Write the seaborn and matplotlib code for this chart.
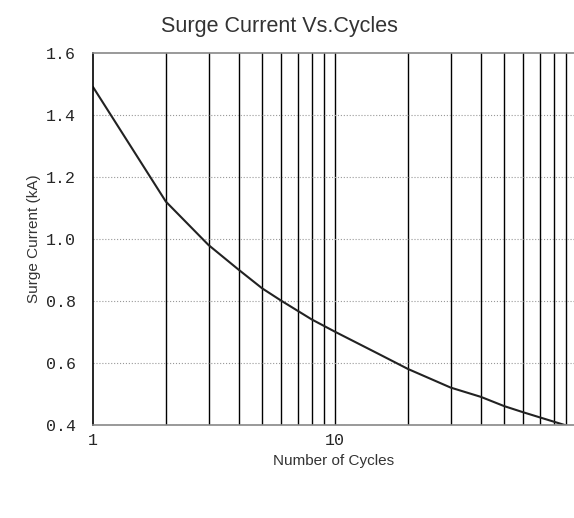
import numpy as np
import pandas as pd
import seaborn as sns
import matplotlib.pyplot as plt
from matplotlib.ticker import FixedLocator, NullFormatter

# Data (lower part is estimated)
cycles = [1, 2, 3, 4, 5, 6, 8, 10, 15, 20, 30, 40, 50, 60, 80, 97]
surge_current = [1.49, 1.12, 0.98, 0.90, 0.84, 0.80, 0.74, 0.70,
                 0.63, 0.58, 0.52, 0.49, 0.46, 0.44, 0.41, 0.39]
y_ticks = [0.4, 0.6, 0.8, 1.0, 1.2, 1.4, 1.6]
x_ticks = [1, 10]
x_grid = [2, 3, 4, 5, 6, 7, 8, 9, 10, 20, 30, 40, 50, 60, 70, 80, 90]

df = pd.DataFrame({'Cycles': cycles, 'Current': surge_current})

sns.set_style('white')
plt.rcParams['font.family'] = ['Liberation Sans', 'DejaVu Sans']

fig = plt.figure(figsize=(5.74, 5.18), dpi=100)
ax = fig.add_axes([0.162, 0.18, 0.838, 0.718])

sns.lineplot(x='Cycles', y='Current', data=df, ax=ax, color='#222222', linewidth=1.5)

ax.set_xscale('log')
ax.set_xlim(1, 97)
ax.set_ylim(0.4, 1.6)

# vertical grid at every cycle step, horizontal dotted at the y ticks
for v in x_grid:
    ax.axvline(v, color='black', linewidth=1, zorder=1)
for v in y_ticks[:-1]:
    ax.axhline(v, color='#999999', linewidth=0.8, linestyle=':', zorder=1)

ax.xaxis.set_major_locator(FixedLocator(x_ticks))
ax.xaxis.set_minor_formatter(NullFormatter())
ax.set_xticklabels([str(t) for t in x_ticks])
ax.set_yticks(y_ticks)
ax.set_yticklabels(['%.1f' % t for t in y_ticks])
ax.tick_params(axis='y', which='both', length=0, labelsize=12, pad=12)
ax.tick_params(axis='x', which='both', length=0, labelsize=12, pad=6)
for lbl in ax.get_xticklabels() + ax.get_yticklabels():
    lbl.set_fontfamily('Liberation Mono')

ax.spines['left'].set_color('black')
ax.spines['top'].set_color('#888888')
ax.spines['bottom'].set_color('#888888')
ax.spines['right'].set_visible(False)
for s in ax.spines.values():
    s.set_linewidth(1.2)

ax.set_xlabel('Number of Cycles', fontsize=11, color='#333333')
ax.set_ylabel('Surge Current (kA)', fontsize=11, color='#333333')

fig.text(0.486, 0.948, 'Surge Current Vs.Cycles', ha='center', va='center',
         fontsize=15.5, color='#333333')

plt.savefig('out.png', dpi=100)
